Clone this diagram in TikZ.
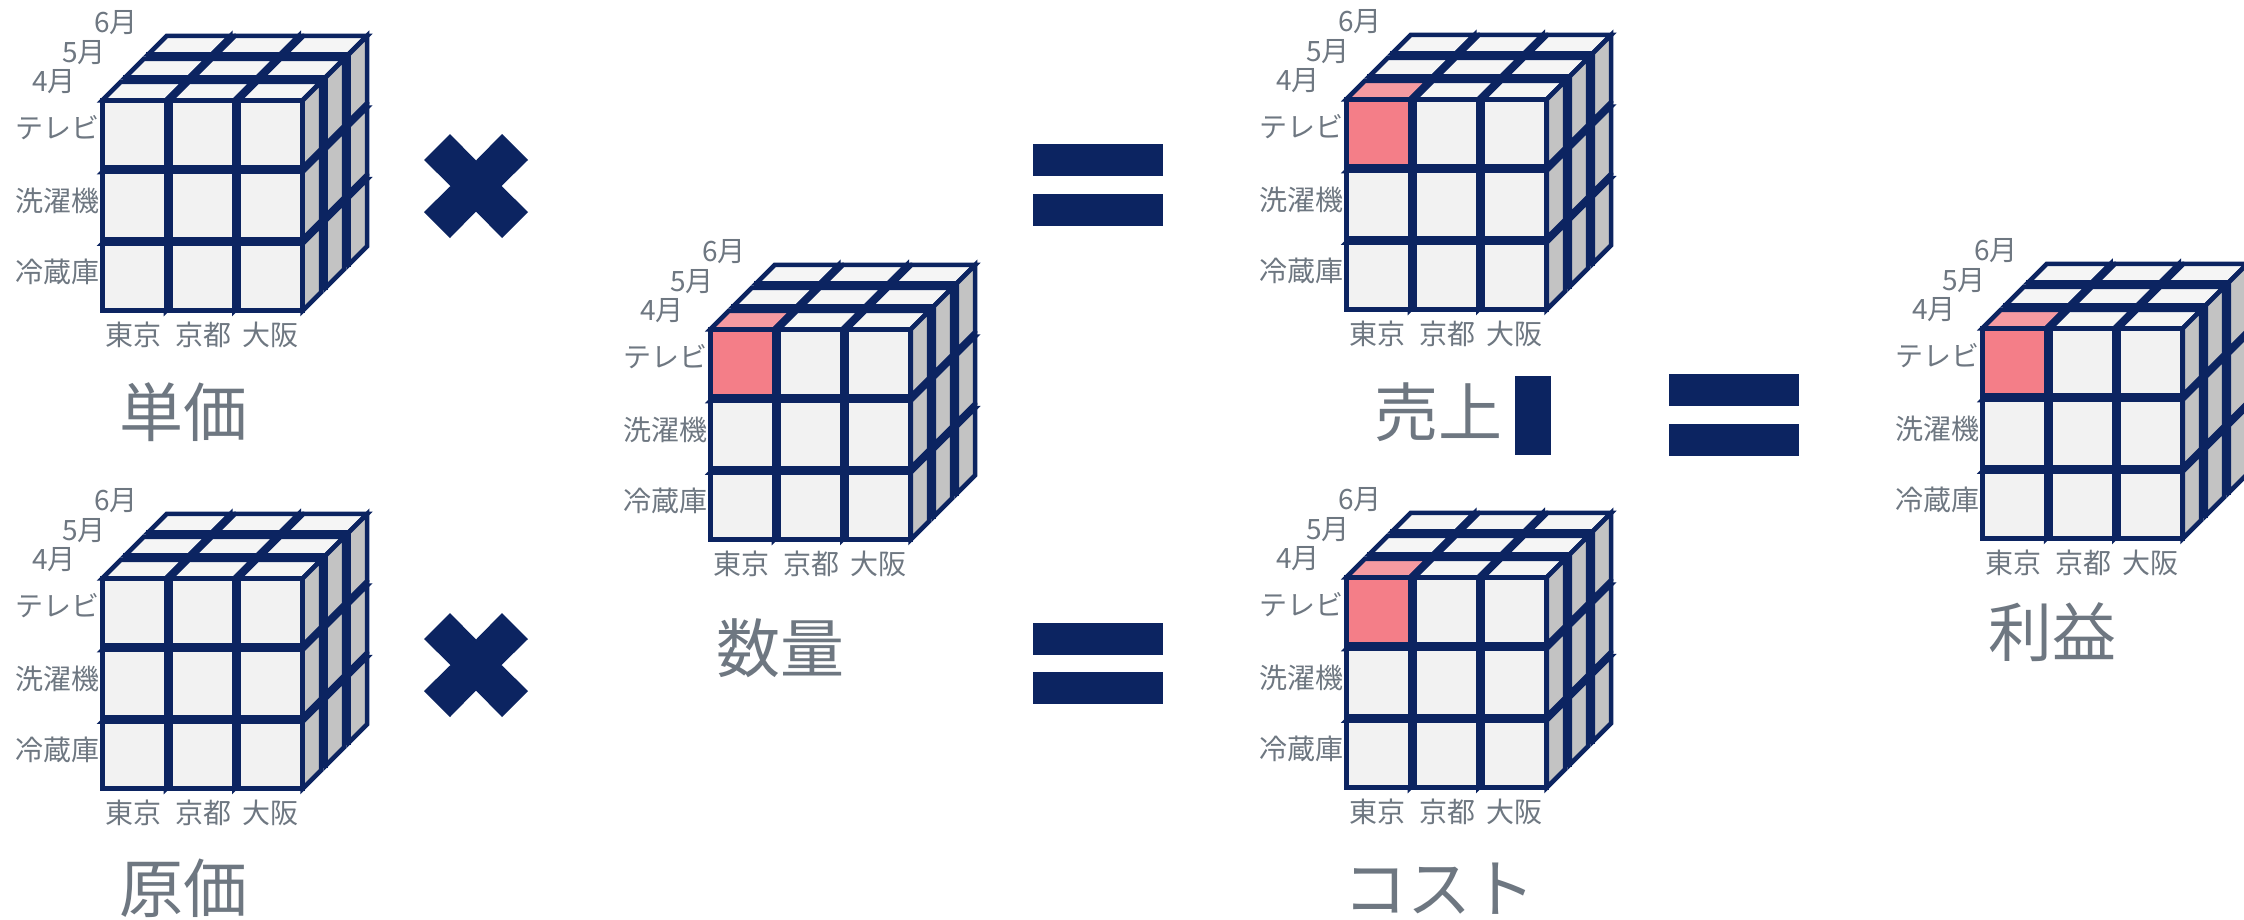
\documentclass[tikz,border=0pt]{standalone}
\usepackage{fontspec}
\newfontfamily\jp{Noto Sans CJK JP}
\definecolor{navy}{HTML}{0C2461}
\definecolor{lbl}{HTML}{6E7781}
\definecolor{cfront}{HTML}{F2F2F2}
\definecolor{ctop}{HTML}{F5F5F5}
\definecolor{cside}{HTML}{C3C3C3}
\definecolor{redfront}{HTML}{F47E88}
\definecolor{redtop}{HTML}{F59AA1}
\tikzset{
  lab/.style={font=\jp\fontsize{28}{30}\selectfont, text=lbl, inner sep=0pt},
  ttl/.style={font=\jp\fontsize{64}{70}\selectfont, text=lbl, inner sep=0pt},
  face/.style={draw=navy, line width=4.6pt, miter limit=4},
  opfill/.style={fill=navy, draw=none}
}
\def\cpx{68.33}
\def\cpy{71.67}
\def\cdd{23}
\def\cdep{18.4}
\def\chl{2.3}
% #1 X0, #2 Y0 (outer top-left of front face), #3 highlight 1/0
\newcommand{\datacube}[3]{%
  \foreach \kk in {2,1,0}{%
    \foreach \rr in {2,1,0}{%
      \foreach \cc in {0,1,2}{%
        \pgfmathsetmacro{\cL}{#1+\cc*\cpx+\kk*\cdd+\chl}%
        \pgfmathsetmacro{\cR}{#1+(\cc+1)*\cpx+\kk*\cdd-\chl}%
        \pgfmathsetmacro{\cT}{#2+\rr*\cpy-\kk*\cdd+\chl}%
        \pgfmathsetmacro{\cB}{#2+(\rr+1)*\cpy-\kk*\cdd-\chl}%
        \pgfmathsetmacro{\cRd}{\cR+\cdep}%
        \pgfmathsetmacro{\cLd}{\cL+\cdep}%
        \pgfmathsetmacro{\cTd}{\cT-\cdep}%
        \pgfmathsetmacro{\cBd}{\cB-\cdep}%
        \pgfmathtruncatemacro{\hit}{#3*((\kk+\rr+\cc)==0)}%
        \ifnum\hit=1 \def\ffront{redfront}\def\ftop{redtop}\else\def\ffront{cfront}\def\ftop{ctop}\fi
        \filldraw[face, fill=\ftop] (\cL,\cT) -- (\cR,\cT) -- (\cRd,\cTd) -- (\cLd,\cTd) -- cycle;
        \filldraw[face, fill=cside] (\cR,\cT) -- (\cR,\cB) -- (\cRd,\cBd) -- (\cRd,\cTd) -- cycle;
        \filldraw[face, fill=\ffront] (\cL,\cT) rectangle (\cR,\cB);
      }%
    }%
  }%
}
% #1 X0, #2 Y0, #3 name prefix
\newcommand{\cubelabels}[3]{%
  \node[lab] (#3-m4) at ({#1-46},{#2-16}) {4月};
  \node[lab] (#3-m5) at ({#1-16},{#2-45}) {5月};
  \node[lab] (#3-m6) at ({#1+16},{#2-75}) {6月};
  \node[lab, anchor=west] (#3-r1) at ({#1-85},{#2+30}) {テレビ};
  \node[lab, anchor=west] (#3-r2) at ({#1-85},{#2+103}) {洗濯機};
  \node[lab, anchor=west] (#3-r3) at ({#1-85},{#2+174}) {冷蔵庫};
  \node[lab] (#3-c1) at ({#1+33},{#2+237}) {東京};
  \node[lab] (#3-c2) at ({#1+103},{#2+237}) {京都};
  \node[lab] (#3-c3) at ({#1+170},{#2+237}) {大阪};
}
\newcommand{\timesmark}[2]{%
  \begin{scope}[shift={(#1,#2)}]
    \fill[opfill] (-26,-52) -- (0,-25.5) -- (26,-52) -- (52,-26) -- (25.5,0) -- (52,26)
      -- (26,52) -- (0,25.5) -- (-26,52) -- (-52,26) -- (-25.5,0) -- (-52,-26) -- cycle;
  \end{scope}
}
\newcommand{\equalsmark}[4]{% x1, x2, top y of bar 1, top y of bar 2 ; bar height 32
  \fill[opfill] (#1,#3) rectangle (#2,{#3+32});
  \fill[opfill] (#1,#4) rectangle (#2,{#4+32});
}
\begin{document}
\begin{tikzpicture}[x=1pt, y=-1pt]
\useasboundingbox (0,0) rectangle (2244,919);
\clip (0,0) rectangle (2244,919);
\fill[white] (0,0) rectangle (2244,919);

% labels (behind cubes)
\cubelabels{100}{98}{a}
\cubelabels{100}{576}{b}
\cubelabels{708}{327}{q}
\cubelabels{1344}{97}{s}
\cubelabels{1344}{575}{k}
\cubelabels{1980}{326}{p}

% cubes
\datacube{100}{98}{0}
\datacube{100}{576}{0}
\datacube{708}{327}{1}
\datacube{1344}{97}{1}
\datacube{1344}{575}{1}
\datacube{1980}{326}{1}

% titles
\node[ttl] (t-tanka) at (183,412) {単価};
\node[ttl] (t-genka) at (183,888) {原価};
\node[ttl] (t-suryo) at (780,648) {数量};
\node[ttl] (t-uriage) at (1438,412) {売上};
\node[ttl] (t-cost) at (1439,889) {コスト};
\node[ttl] (t-rieki) at (2052,632) {利益};

% operators
\timesmark{476}{186}
\timesmark{476}{665}
\equalsmark{1033}{1163}{144}{194}
\equalsmark{1033}{1163}{623}{672}
\equalsmark{1669}{1799}{374}{424}
\fill[opfill] (1515,376) rectangle (1551,455);
\end{tikzpicture}
\end{document}
